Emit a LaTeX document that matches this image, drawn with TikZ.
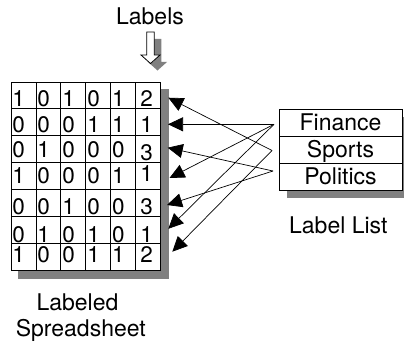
\documentclass[tikz,border=0pt]{standalone}
\usepackage{fontspec}
\setmainfont{TeX Gyre Heros}
\usetikzlibrary{arrows.meta}
\begin{document}
\begin{tikzpicture}[x=1pt,y=-1pt,
  shadow/.style={fill=black!50,draw=none},
  digit/.style={anchor=base west,inner sep=0pt,font=\fontsize{22.5}{27}\selectfont},
  word/.style={anchor=base,inner sep=0pt,font=\fontsize{23}{27}\selectfont},
  lcell/.style={draw,line width=0.9pt,fill=white,minimum width=123pt,minimum height=27pt,inner sep=0pt,text height=16.5pt,text depth=0pt,font=\fontsize{23}{27}\selectfont},
  gridline/.style={line width=0.9pt},
  link/.style={line width=0.7pt,-{Triangle[length=15pt,width=14pt]}},
]
\useasboundingbox (0,0) rectangle (404,345);

% title and hollow arrow
\node[word] (labels) at (150,25) {Labels};
\fill[black!50,shift={(7,7)}] (146.7,32) -- (154.3,32) -- (154.3,55) -- (160,55) -- (150.5,63.5) -- (141,55) -- (146.7,55) -- cycle;
\draw[fill=white,line width=0.8pt] (146.7,32) -- (154.3,32) -- (154.3,55) -- (160,55) -- (150.5,63.5) -- (141,55) -- (146.7,55) -- cycle;

% spreadsheet
\fill[shadow] (18,89) rectangle (168.5,278.5);
\node[draw,line width=0.9pt,fill=white,minimum width=149.7pt,minimum height=188pt,inner sep=0pt] (sheet) at (85.85,176) {};
\foreach \i in {1,...,5} \draw[gridline] ({11+24.95*\i},82) -- ({11+24.95*\i},270);
\foreach \i in {1,...,6} \draw[gridline] (11,{82+26.857*\i}) -- (160.7,{82+26.857*\i});

\foreach \r/\b/\lb/\ds in {1/106/106/{1,0,1,0,1,2},
                          2/132/132/{0,0,0,1,1,1},
                          3/157/160.5/{0,1,0,0,0,3},
                          4/183.5/181.5/{1,0,0,0,1,1},
                          5/214.5/214.5/{0,0,1,0,0,3},
                          6/242/242/{0,1,0,1,0,1},
                          7/262.5/262.5/{1,0,0,1,1,2}} {
  \foreach \d [count=\c] in \ds {
    \ifnum\c=6
      \node[digit] (d\r\c) at ({11+24.95*5+4.5},\lb) {\d};
    \else
      \node[digit] (d\r\c) at ({11+24.95*(\c-1)+1.2},\b) {\d};
    \fi
  }
}

\node[word] (cap1) at (77.5,310) {Labeled};
\node[word] (cap2) at (80.8,336.7) {Spreadsheet};

% label list
\fill[shadow] (287,117) rectangle (410,198);
\node[lcell] (fin) at (340.5,122.5) {Finance};
\node[lcell] (spo) at (340.5,149.5) {Sports};
\node[lcell] (pol) at (340.5,176.5) {Politics};
\node[word] (list) at (338.3,233.3) {Label List};

% connectors
\coordinate (sF) at (274,124.3);
\coordinate (sS) at (272,150.5);
\coordinate (sP) at (273,171);
\coordinate (t1) at (168.3,97.7);
\coordinate (t2) at (168,124.3);
\coordinate (t3) at (167.7,147.7);
\coordinate (t4) at (169.5,178);
\coordinate (t5) at (167,205);
\coordinate (t6) at (168.3,228.8);
\coordinate (t7) at (172.3,251.7);
\draw[link] (sS) -- (t1);
\draw[link] (sF) -- (t2);
\draw[link] (sP) -- (t3);
\draw[link] (sF) -- (t4);
\draw[link] (sP) -- (t5);
\draw[link] (sF) -- (t6);
\draw[link] (sS) -- (t7);
\end{tikzpicture}
\end{document}
